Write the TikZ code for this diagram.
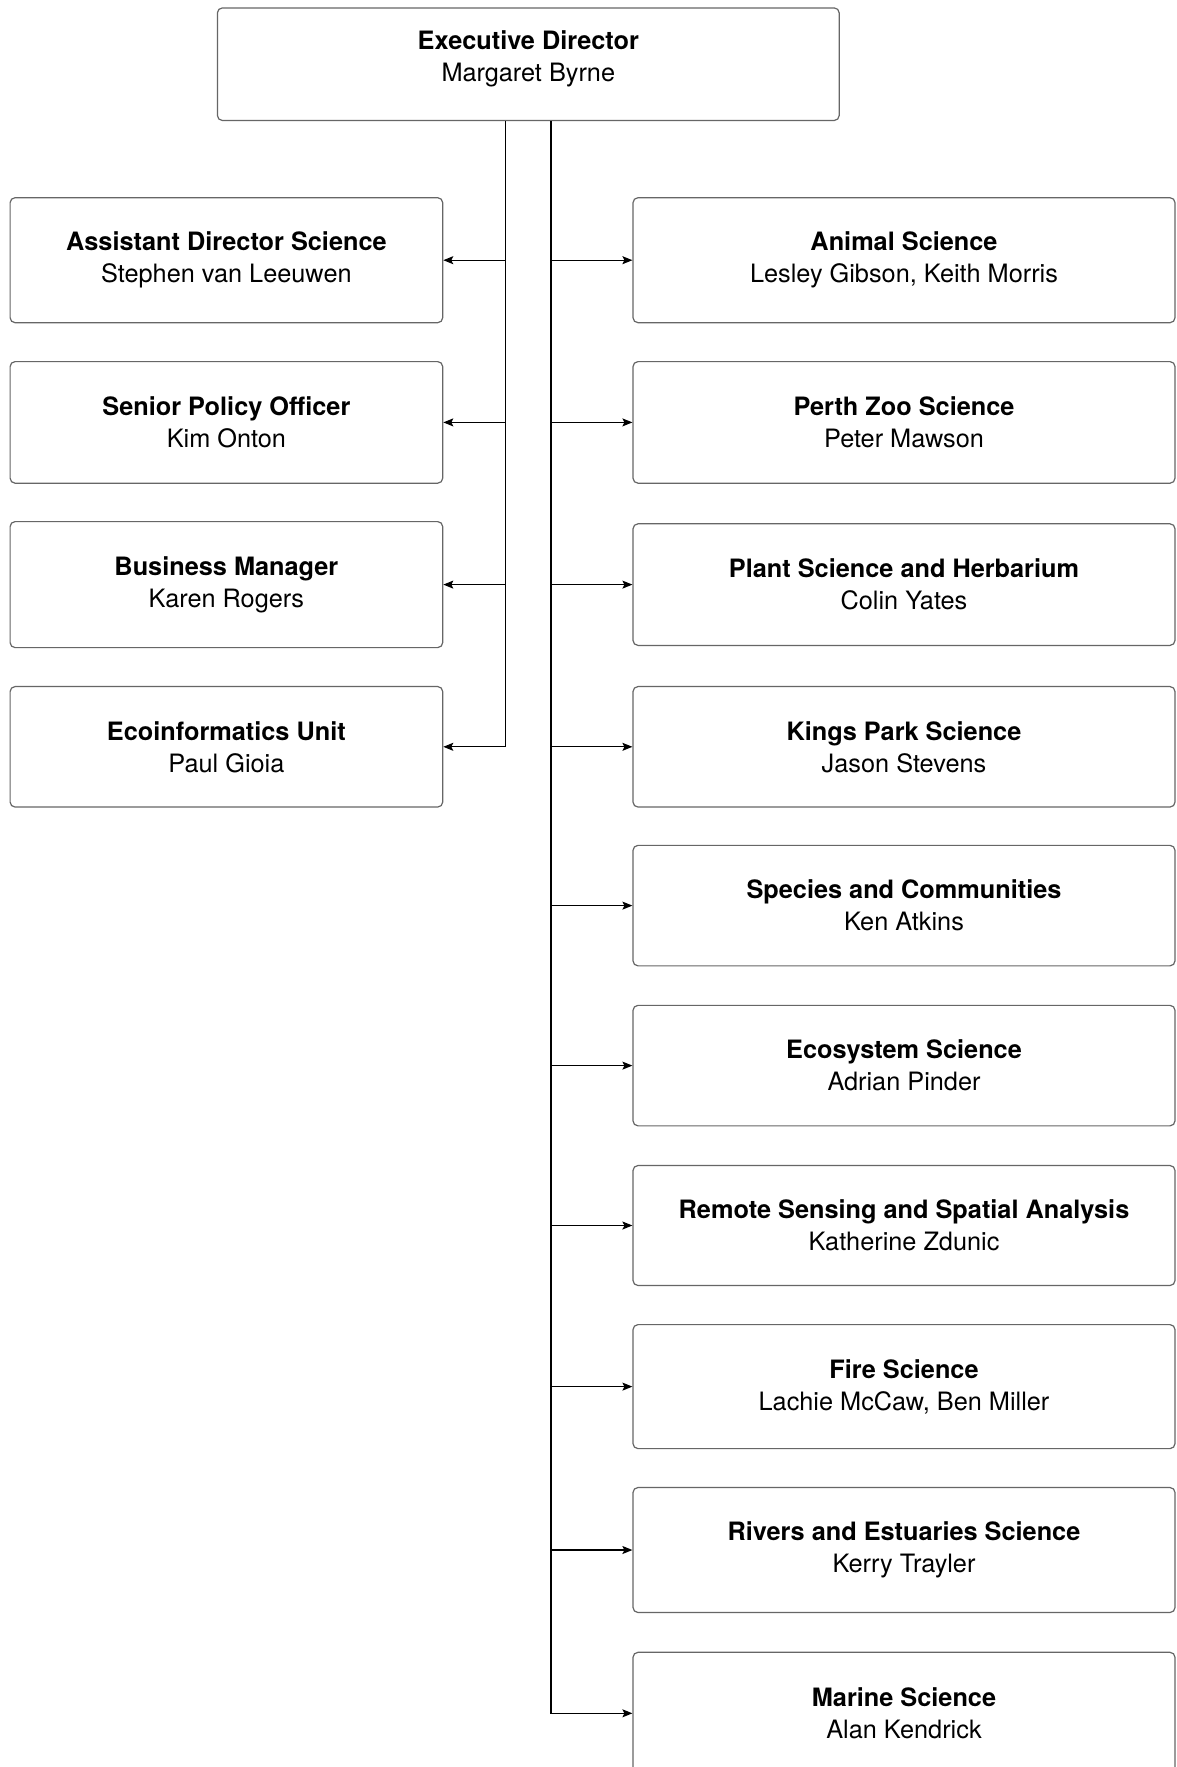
\documentclass[tikz,border=0pt]{standalone}
\usepackage{fontspec}
\setmainfont{TeX Gyre Heros}
\usetikzlibrary{arrows.meta}
\begin{document}
\begin{tikzpicture}[x=1pt,y=-1pt,
  box/.style={draw=black!60, line width=1.2pt, rounded corners=5pt, fill=white,
    align=center, inner sep=0pt, font=\fontsize{25.3}{32}\selectfont},
  lbox/.style={box, minimum width=432.6pt},
  rbox/.style={box, minimum width=542pt},
  lbl/.style={align=center, inner sep=0pt, font=\fontsize{25.3}{32}\selectfont},
  conn/.style={draw=black, line width=1.2pt, -{Stealth[length=10pt,width=8pt,inset=2pt]}},
]
\clip (0,0) rectangle (1176,1767);
\fill[white] (0,0) rectangle (1176,1767);

% top box
\node[box, minimum width=621.8pt, minimum height=112.6pt] (top) at (528.3,64.2) {};
\node[lbl] (toptext) at (528.3,59) {\textbf{Executive Director}\\Margaret Byrne};

% left column
\node[lbox, minimum height=125pt]   (L1) at (226.4,260.2) {\textbf{Assistant Director Science}\\Stephen van Leeuwen};
\node[lbox, minimum height=121.6pt] (L2) at (226.4,422.4) {\textbf{Senior Policy Officer}\\Kim Onton};
\node[lbox, minimum height=126pt]   (L3) at (226.4,584.6) {\textbf{Business Manager}\\Karen Rogers};
\node[lbox, minimum height=120.5pt] (L4) at (226.4,746.8) {\textbf{Ecoinformatics Unit}\\Paul Gioia};

% right column
\node[rbox, minimum height=125pt]   (R1)  at (904,260.2)  {\textbf{Animal Science}\\Lesley Gibson, Keith Morris};
\node[rbox, minimum height=121.6pt] (R2)  at (904,422.4)  {\textbf{Perth Zoo Science}\\Peter Mawson};
\node[rbox, minimum height=121.6pt] (R3)  at (904,584.6)  {\textbf{Plant Science and Herbarium}\\Colin Yates};
\node[rbox, minimum height=120.5pt] (R4)  at (904,746.8)  {\textbf{Kings Park Science}\\Jason Stevens};
\node[rbox, minimum height=120.5pt] (R5)  at (904,905.6)  {\textbf{Species and Communities}\\Ken Atkins};
\node[rbox, minimum height=120.5pt] (R6)  at (904,1065.6) {\textbf{Ecosystem Science}\\Adrian Pinder};
\node[rbox, minimum height=120pt]   (R7)  at (904,1225.5) {\textbf{Remote Sensing and Spatial Analysis}\\Katherine Zdunic};
\node[rbox, minimum height=124pt]   (R8)  at (904,1386.6) {\textbf{Fire Science}\\Lachie McCaw, Ben Miller};
\node[rbox, minimum height=125pt]   (R9)  at (904,1550)   {\textbf{Rivers and Estuaries Science}\\Kerry Trayler};
\node[rbox, minimum height=122pt]   (R10) at (904,1713.3) {\textbf{Marine Science}\\Alan Kendrick};

% trunk x positions
\coordinate (lx) at (505.5,0);
\coordinate (rx) at (550.8,0);

\foreach \n in {L1,L2,L3,L4}
  \draw[conn] (lx |- top.south) |- (\n.east);
\foreach \n in {R1,R2,R3,R4,R5,R6,R7,R8,R9,R10}
  \draw[conn] (rx |- top.south) |- (\n.west);
\draw[line width=1.6pt] (rx |- top.south) -- (rx |- R10.west);
\end{tikzpicture}
\end{document}
